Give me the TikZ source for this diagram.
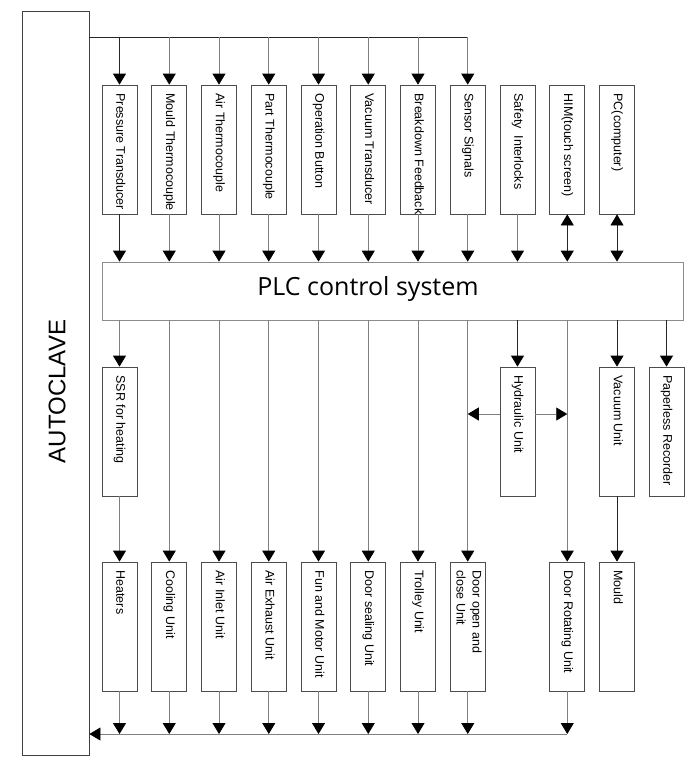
\documentclass[tikz,border=0pt]{standalone}
\usepackage{graphicx}
\usepackage{fontspec}
\setmainfont{Liberation Sans}
\newfontfamily\plcfont{Open Sans}
\usetikzlibrary{arrows.meta}
\newcommand{\vtext}[1]{\rotatebox{-90}{\makebox[112pt][l]{\begin{tabular}{@{}l@{}}#1\end{tabular}}}}
\tikzset{
  unit/.style={draw=black!70, minimum width=35pt, minimum height=129pt, inner sep=0pt, font=\fontsize{12.5}{16}\selectfont},
  wire/.style={draw=black!50},
  dwire/.style={draw=black!85},
}
\begin{document}
\begin{tikzpicture}[x=1pt,y=-1pt,>={Triangle[length=11pt,width=13pt,color=black]},line width=0.8pt]
		\useasboundingbox (0,0) rectangle (695,771);
		\node[draw=black!75, minimum width=67pt, minimum height=744pt, inner sep=0pt] (auto) at (55.5,383) {};
		\node[rotate=90, font=\fontsize{24}{28}\selectfont] (autolbl) at (57,391.5) {AUTOCLAVE};
		\node[draw=black!45, minimum width=581pt, minimum height=58pt, inner sep=0pt] (plc) at (392.5,291) {};
		\node[font=\plcfont\fontsize{25}{30}\selectfont] (plclbl) at (368,289.4) {PLC control system};
		\node[unit] (t1) at (119.5,149.5) {\vtext{Pressure Transducer}};
		\node[unit] (t2) at (169.25,149.5) {\vtext{Mould Thermocouple}};
		\node[unit] (t3) at (219,149.5) {\vtext{Air Thermocouple}};
		\node[unit] (t4) at (268.75,149.5) {\vtext{Part Thermocouple}};
		\node[unit] (t5) at (318.5,149.5) {\vtext{Operation Button}};
		\node[unit] (t6) at (368.25,149.5) {\vtext{Vacuum Transducer}};
		\node[unit] (t7) at (418,149.5) {\vtext{Breakdown Feedback}};
		\node[unit] (t8) at (467.75,149.5) {\vtext{Sensor Signals}};
		\node[unit] (t9) at (517.5,149.5) {\vtext{Safety\ \ Interlocks}};
		\node[unit] (t10) at (567.25,149.5) {\vtext{HIM(touch screen)}};
		\node[unit] (t11) at (617,149.5) {\vtext{PC(computer)}};
		\node[unit] (ssr) at (119.5,431.5) {\vtext{SSR for heating}};
		\node[unit] (hyd) at (517.5,431.5) {\vtext{Hydraulic Unit}};
		\node[unit] (vac) at (617,431.5) {\vtext{Vacuum Unit}};
		\node[unit] (rec) at (666.5,431.5) {\vtext{Paperless Recorder}};
		\node[unit] (b1) at (119.5,626.5) {\vtext{Heaters}};
		\node[unit] (b2) at (169.25,626.5) {\vtext{Cooling Unit}};
		\node[unit] (b3) at (219,626.5) {\vtext{Air Inlet Unit}};
		\node[unit] (b4) at (268.75,626.5) {\vtext{Air Exhaust Unit}};
		\node[unit] (b5) at (318.5,626.5) {\vtext{Fun and Motor Unit}};
		\node[unit] (b6) at (368.25,626.5) {\vtext{Door sealing Unit}};
		\node[unit] (b7) at (418,626.5) {\vtext{Trolley Unit}};
		\node[unit] (b8) at (467.75,626.5) {\vtext{Door open and\\close Unit}};
		\node[unit] (b10) at (567.25,626.5) {\vtext{Door Rotating Unit}};
		\node[unit] (b11) at (617,626.5) {\vtext{Mould}};
		\coordinate (bus) at (89,37);
		\draw[dwire] (bus) -- (bus -| t8);
		\draw[dwire,->] (bus -| t1) -- (t1.north);
		\draw[wire,->] (bus -| t2) -- (t2.north);
		\draw[wire,->] (bus -| t3) -- (t3.north);
		\draw[wire,->] (bus -| t4) -- (t4.north);
		\draw[wire,->] (bus -| t5) -- (t5.north);
		\draw[wire,->] (bus -| t6) -- (t6.north);
		\draw[wire,->] (bus -| t7) -- (t7.north);
		\draw[wire,->] (bus -| t8) -- (t8.north);
		\draw[dwire,->] (t1.south) -- (t1.south |- plc.north);
		\draw[wire,->] (t2.south) -- (t2.south |- plc.north);
		\draw[wire,->] (t3.south) -- (t3.south |- plc.north);
		\draw[wire,->] (t4.south) -- (t4.south |- plc.north);
		\draw[wire,->] (t5.south) -- (t5.south |- plc.north);
		\draw[wire,->] (t6.south) -- (t6.south |- plc.north);
		\draw[wire,->] (t7.south) -- (t7.south |- plc.north);
		\draw[wire,->] (t8.south) -- (t8.south |- plc.north);
		\draw[wire,->] (t9.south) -- (t9.south |- plc.north);
		\draw[dwire,<->] (t10.south) -- (t10.south |- plc.north);
		\draw[dwire,<->] (t11.south) -- (t11.south |- plc.north);
		\draw[wire,->] (ssr.north |- plc.south) -- (ssr.north);
		\draw[wire,->] (ssr.south) -- (b1.north);
		\draw[wire,->] (b2.north |- plc.south) -- (b2.north);
		\draw[wire,->] (b3.north |- plc.south) -- (b3.north);
		\draw[wire,->] (b4.north |- plc.south) -- (b4.north);
		\draw[wire,->] (b5.north |- plc.south) -- (b5.north);
		\draw[wire,->] (b6.north |- plc.south) -- (b6.north);
		\draw[wire,->] (b7.north |- plc.south) -- (b7.north);
		\draw[wire,->] (b8.north |- plc.south) -- (b8.north);
		\draw[wire,->] (b10.north |- plc.south) -- (b10.north);
		\draw[dwire,->] (hyd.north |- plc.south) -- (hyd.north);
		\coordinate (hl) at ([yshift=17.5pt]hyd.west);
		\coordinate (hr) at ([yshift=17.5pt]hyd.east);
		\draw[wire,->] (hl) -- (hl -| b8);
		\draw[wire,->] (hr) -- (hr -| b10);
		\draw[dwire,->] (vac.north |- plc.south) -- (vac.north);
		\draw[dwire,->] (vac.south) -- (b11.north);
		\draw[dwire,->] (rec.north |- plc.south) -- (rec.north);
		\coordinate (ret) at (567.25,734);
		\draw[wire,->] (ret) -- (ret -| auto.east);
		\draw[wire,->] (b1.south) -- (b1.south |- ret);
		\draw[wire,->] (b2.south) -- (b2.south |- ret);
		\draw[wire,->] (b3.south) -- (b3.south |- ret);
		\draw[wire,->] (b4.south) -- (b4.south |- ret);
		\draw[wire,->] (b5.south) -- (b5.south |- ret);
		\draw[wire,->] (b6.south) -- (b6.south |- ret);
		\draw[wire,->] (b7.south) -- (b7.south |- ret);
		\draw[wire,->] (b8.south) -- (b8.south |- ret);
		\draw[wire,->] (b10.south) -- (b10.south |- ret);
\end{tikzpicture}
\end{document}
